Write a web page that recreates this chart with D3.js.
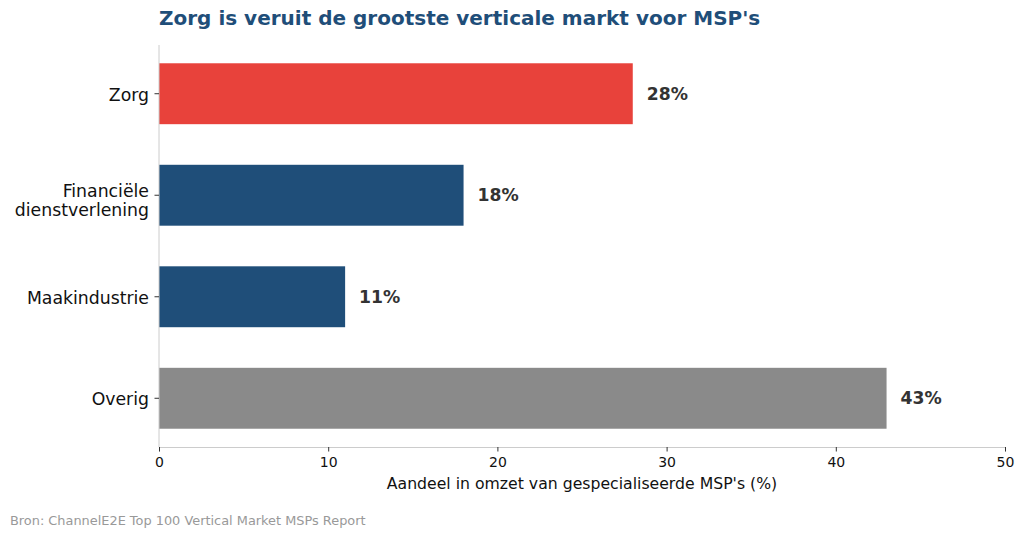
<!DOCTYPE html>
<html>
  <head>
  <meta charset="utf-8">
  <title>Zorg</title>
  <style>
    body, html { margin: 0; padding: 0; background: #fff; }
    svg { font-family: "DejaVu Sans", sans-serif; }
  </style>
  </head>
  <body>
  <svg id="svg" width="1024" height="537"></svg>
  <script src="https://d3js.org/d3.v7.min.js"></script>
  <script>
    const categories = ['Zorg', 'Financiële\ndienstverlening', 'Maakindustrie', 'Overig']
    const values = [28, 18, 11, 43]
    const colors = ['#e8423b', '#1f4e79', '#1f4e79', '#8a8a8a']
    const xTicks = [0, 10, 20, 30, 40, 50]

    const data = categories.map((c, i) => ({ label: c, value: values[i], color: colors[i] }))
    const margin = { top: 45, right: 19, bottom: 90, left: 159 }
    const width = 1024 - margin.left - margin.right
    const height = 537 - margin.top - margin.bottom

    const svg = d3.select('#svg')
    const g = svg.append('g').attr('transform', `translate(${margin.left},${margin.top})`)

    const xscale = d3.scaleLinear().domain([0, 50]).range([0, width])
    const yscale = d3.scaleBand()
      .domain(categories)
      .range([0, height])
      .paddingInner(0.4)
      .paddingOuter(0.18)

    g.selectAll('rect')
      .data(data)
      .enter()
      .append('rect')
      .attr('x', 0)
      .attr('y', d => yscale(d.label))
      .attr('width', d => xscale(d.value))
      .attr('height', yscale.bandwidth())
      .attr('fill', d => d.color)

    g.selectAll('.val')
      .data(data)
      .enter()
      .append('text')
      .attr('class', 'val')
      .attr('x', d => xscale(d.value) + 14)
      .attr('y', d => yscale(d.label) + yscale.bandwidth() / 2)
      .attr('dy', '0.35em')
      .attr('font-size', 17.2)
      .attr('font-weight', 'bold')
      .attr('fill', '#333')
      .text(d => d.value + '%')

    // x axis
    const bottomAxis = d3.axisBottom(xscale).tickValues(xTicks).tickSize(4.5).tickPadding(6)
    const xg = g.append('g').attr('transform', `translate(0,${height})`).call(bottomAxis)
    xg.select('.domain').attr('stroke', '#ccc')
    xg.selectAll('.tick line').attr('stroke', '#333')
    xg.selectAll('.tick text').attr('font-size', 14).attr('fill', '#111').attr('font-family', '"DejaVu Sans", sans-serif')

    // y axis
    const leftAxis = d3.axisLeft(yscale).tickSize(4.5).tickPadding(6).tickFormat('')
    const yg = g.append('g').call(leftAxis)
    yg.select('.domain').attr('stroke', '#ccc').attr('d', `M0,0V${height}`)
    yg.selectAll('.tick line').attr('stroke', '#333')
    yg.selectAll('.tick').each(function (d) {
      const lines = d.split('\n')
      const t = d3.select(this).append('text')
        .attr('x', -10)
        .attr('text-anchor', 'end')
        .attr('font-size', 17.3)
        .attr('fill', '#111')
        .attr('font-family', '"DejaVu Sans", sans-serif')
      lines.forEach((l, i) => {
        t.append('tspan')
          .attr('x', -10)
          .attr('y', lines.length > 1 ? i * 19.5 - 4.5 : 1)
          .attr('dy', '0.35em')
          .text(l)
      })
    })

    svg.append('text')
      .attr('x', margin.left + width / 2)
      .attr('y', 489)
      .attr('text-anchor', 'middle')
      .attr('font-size', 15.7)
      .attr('fill', '#111')
      .text("Aandeel in omzet van gespecialiseerde MSP's (%)")

    svg.append('text')
      .attr('x', 159)
      .attr('y', 25)
      .attr('font-size', 20)
      .attr('font-weight', 'bold')
      .attr('fill', '#1f4e79')
      .text("Zorg is veruit de grootste verticale markt voor MSP's")

    svg.append('text')
      .attr('x', 10)
      .attr('y', 525)
      .attr('font-size', 12.9)
      .attr('fill', '#999')
      .text('Bron: ChannelE2E Top 100 Vertical Market MSPs Report')
  </script>
  </body>
</html>
